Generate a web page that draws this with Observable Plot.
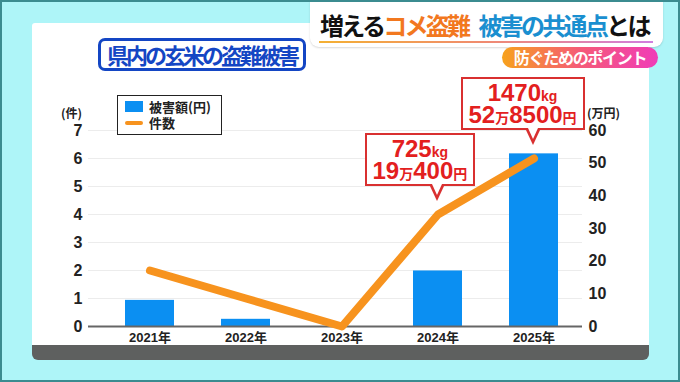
<!DOCTYPE html>
<html><head><meta charset="utf-8">
<script src="https://cdn.jsdelivr.net/npm/d3@7"></script>
<script src="https://cdn.jsdelivr.net/npm/@observablehq/plot@0.6"></script>
<style>
body{margin:0;}
#frame{position:relative;width:680px;height:382px;background:#aef5f8;overflow:hidden;font-family:"Liberation Sans","Noto Sans CJK JP",sans-serif;}
#frame .abs{position:absolute;}
#border{position:absolute;left:0;top:0;width:680px;height:382px;box-sizing:border-box;border:2px solid #3b8c90;pointer-events:none;z-index:10;}
#panel{left:32px;top:23px;width:617px;height:322px;background:#fff;border-radius:3px 3px 0 0;}
#band{left:32px;top:345px;width:617px;height:15px;background:#5e605f;border-radius:0 0 6px 6px;}
#titlebox{left:310px;top:0;width:353px;height:47px;background:#fff;border-radius:0 0 9px 9px;box-shadow:0 1px 2px rgba(0,0,0,0.15);}
#title{left:320px;top:12px;font-family:"Noto Sans CJK JP",sans-serif;font-weight:bold;font-size:24px;letter-spacing:-2.7px;color:#111;white-space:nowrap;line-height:26px;}
#uline{left:319px;top:41px;width:334px;height:2px;background:linear-gradient(to right,#f4b032,#f08a70,#d07ee0);}
#pill{left:502px;top:47px;width:156px;height:21px;border-radius:11px;background:linear-gradient(to right,#f7a21c,#f55a78,#f03cb8);color:#fff;font-family:"Noto Sans CJK JP",sans-serif;font-weight:bold;font-size:16px;letter-spacing:-1.3px;line-height:21px;text-align:center;}
#sub{left:98px;top:38px;width:208px;height:33px;box-sizing:border-box;border:3px solid #1446c4;border-radius:7px;background:#fff;color:#1446c4;font-family:"Noto Sans CJK JP",sans-serif;font-weight:bold;font-size:22px;letter-spacing:-3px;line-height:27px;text-align:center;white-space:nowrap;}
#chart{left:0;top:0;}
.unit{font-family:"Noto Sans CJK JP",sans-serif;font-size:12px;font-weight:bold;color:#222;line-height:14px;white-space:nowrap;}
#legend{left:117px;top:95px;width:105px;height:40px;box-sizing:border-box;border:1.5px solid #222;background:#fff;z-index:3;}
.lg{position:absolute;left:31px;font-family:"Noto Sans CJK JP",sans-serif;font-size:13px;font-weight:bold;color:#222;line-height:15px;white-space:nowrap;}
.callout{position:absolute;height:53px;box-sizing:border-box;border:2.5px solid #d93030;background:#fff;padding:3px 6px 0 6px;color:#e3201e;font-weight:bold;text-align:center;white-space:nowrap;z-index:4;}
.callout .ln{line-height:22px;height:22px;}
.callout .big{font-family:"Liberation Sans",sans-serif;font-size:24px;}
.callout .sm{font-family:"Liberation Sans","Noto Sans CJK JP",sans-serif;font-size:14px;}
.callout::before{content:"";position:absolute;left:62px;top:100%;border-left:8px solid transparent;border-right:8px solid transparent;border-top:17px solid #d93030;}
.callout::after{content:"";position:absolute;left:65px;top:100%;border-left:5px solid transparent;border-right:5px solid transparent;border-top:11px solid #fff;}
</style>
</head><body>
<div id="frame">
  <div id="panel" class="abs"></div>
  <div id="band" class="abs"></div>
  <div id="titlebox" class="abs"></div>
  <div id="title" class="abs">増える<span style="color:#f2781f">コメ盗難</span><span style="display:inline-block;width:10px"></span><span style="color:#1a8fd0">被害の共通点</span>とは</div>
  <div id="uline" class="abs"></div>
  <div id="pill" class="abs">防ぐためのポイント</div>
  <div id="sub" class="abs">県内の玄米の盗難被害</div>
  <div id="chart" class="abs"></div>
  <div id="border"></div>
</div>
<script>
// ---- data ----
const years = ["2021年", "2022年", "2023年", "2024年", "2025年"];
const damageManYen = [8, 2.2, 0, 17, 52.85];   // 被害額 (万円), as drawn
const cases = [2, 1, 0, 4, 6];                  // 件数
const leftTicks = [0, 1, 2, 3, 4, 5, 6, 7];
const rightTicks = [0, 10, 20, 30, 40, 50, 60];
const leftUnit = "(件)";
const rightUnit = "(万円)";
const legendLabels = ["被害額(円)", "件数"];
const calloutYears = ["2024年", "2025年"];
const calloutKg = [725, 1470];
const calloutYen = [190400, 528500];

const leftMax = 7, rightMax = 60;
const toLeft = v => v * leftMax / rightMax;

const barData = years.map((y, i) => ({year: y, amount: damageManYen[i]}));
const lineData = years.map((y, i) => ({year: y, count: cases[i]}));

const font = "'Liberation Sans','Noto Sans CJK JP',sans-serif";
const chart = Plot.plot({
  width: 680, height: 382,
  marginTop: 130, marginBottom: 56, marginLeft: 88, marginRight: 98,
  style: {background: "transparent", fontFamily: font, overflow: "visible"},
  x: {domain: years, range: [101.5, 581.5], paddingInner: 0.49, paddingOuter: 0.245, align: 0.5},
  y: {domain: [0, leftMax]},
  marks: [
    Plot.gridY(leftTicks, {stroke: "#ececec", strokeOpacity: 1}),
    Plot.axisY(leftTicks, {anchor: "left", tickSize: 0, tickPadding: 6, fontSize: 16, fontWeight: "bold", fill: "#222", label: null}),
    Plot.axisY(rightTicks.map(toLeft), {anchor: "right", tickSize: 0, tickPadding: 6, fontSize: 16, fontWeight: "bold", fill: "#222", label: null,
      tickFormat: d => String(Math.round(d * rightMax / leftMax))}),
    Plot.axisX({tickSize: 0, tickPadding: 6, fontSize: 13, fontWeight: "bold", fill: "#222", label: null}),
    Plot.barY(barData, {x: "year", y: d => toLeft(d.amount), fill: "#0b8ff2"}),
    Plot.ruleY([0], {stroke: "#666", strokeWidth: 2}),
    Plot.line(lineData, {x: "year", y: "count", stroke: "#f7931e", strokeWidth: 8, strokeLinecap: "round", strokeLinejoin: "round"})
  ]
});
const frame = document.getElementById("frame");
document.getElementById("chart").appendChild(chart);

const xs = chart.scale("x"), ys = chart.scale("y");
const bw = xs.bandwidth || 0;

// unit labels
function addText(cls, text, left, top) {
  const d = document.createElement("div");
  d.className = "abs " + cls;
  d.textContent = text;
  d.style.left = left + "px"; d.style.top = top + "px";
  frame.appendChild(d);
  return d;
}
const topY = ys.apply(leftMax);
const uL = addText("unit", leftUnit, 0, topY - 24);
uL.style.width = "82px"; uL.style.textAlign = "right";
addText("unit", rightUnit, 587, topY - 24);

// legend
const lg = document.createElement("div");
lg.id = "legend"; lg.className = "abs";
lg.innerHTML = `<div style="position:absolute;left:7px;top:5px;width:18px;height:11px;background:#0b8ff2"></div>
<div class="lg" style="top:3px">${legendLabels[0]}</div>
<div style="position:absolute;left:7px;top:25px;width:18px;height:4px;background:#f7931e;border-radius:2px"></div>
<div class="lg" style="top:19px">${legendLabels[1]}</div>`;
frame.appendChild(lg);

// callouts
calloutYears.forEach((yr, k) => {
  const i = years.indexOf(yr);
  const tipX = xs.apply(yr) + bw / 2;
  const tipY = ys.apply(cases[i]) - 12;
  const yen = calloutYen[k];
  const man = Math.floor(yen / 10000), rest = yen % 10000;
  const c = document.createElement("div");
  c.className = "callout";
  c.innerHTML = `<div class="ln"><span class="big">${calloutKg[k]}</span><span class="sm">kg</span></div>
<div class="ln"><span class="big">${man}</span><span class="sm">万</span><span class="big">${rest}</span><span class="sm">円</span></div>`;
  c.style.left = (tipX - 73) + "px";
  c.style.top = (tipY - 16 - 53) + "px";
  frame.appendChild(c);
});
</script>
</body></html>
